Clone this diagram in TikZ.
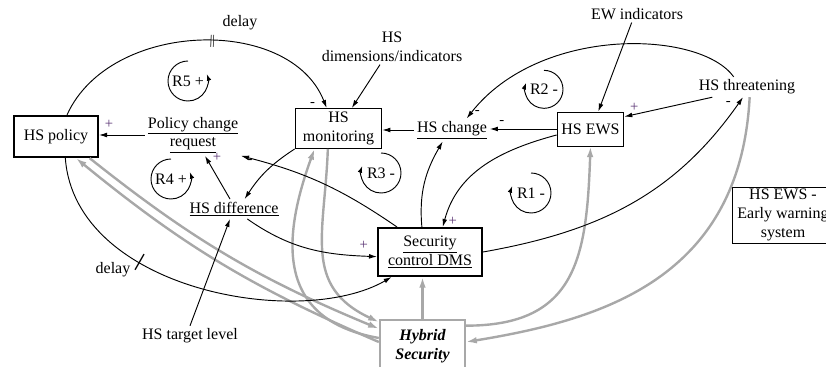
\documentclass[tikz,border=0pt]{standalone}
\usepackage{fontspec}
\setmainfont{Liberation Serif}
\usetikzlibrary{arrows.meta,calc}
\definecolor{plusc}{rgb}{0.35,0.2,0.45}
\definecolor{hsgray}{gray}{0.66}

\begin{document}
\begin{tikzpicture}
	[x=0.75pt, y=0.75pt,
	every node/.style={font=\fontsize{12}{14}\selectfont, align=center, inner sep=2pt},
	box/.style={draw, line width=0.7pt, inner sep=1pt},
	heavybox/.style={draw, line width=1.5pt, inner sep=1pt},
	arr/.style={-{Latex[length=6pt,width=3.6pt]}, line width=0.7pt},
	grayarr/.style={-{Latex[length=8pt,width=5pt]}, line width=1.8pt, draw=hsgray},
	sgn/.style={font=\fontsize{11}{12}\selectfont, inner sep=0pt},
	plus/.style={sgn, text=plusc},
	loopline/.style={-{Latex[length=5pt,width=3.5pt]}, line width=0.7pt},
	tick/.style={sloped, inner sep=0pt, font=\fontsize{10}{10}\selectfont}]

	\useasboundingbox (0,0) rectangle (826,-367);

	% variables
	\node (policy)[heavybox, minimum width=63pt, minimum height=31pt] at (56,-136.5) {HS policy};
	\node (request) at (193,-135) {\underline{Policy change}\\ \underline{request}};
	\node (monitor)[box, minimum width=65pt, minimum height=30pt] at (338.5,-128.5) {HS\\ monitoring};
	\node (dims) at (392,-47) {HS\\ dimensions/indicators};
	\node (change) at (452,-130) {\underline{HS change}};
	\node (ews)[box, minimum width=50pt, minimum height=25.5pt] at (590.5,-129) {HS EWS};
	\node (ewind) at (637,-14) {EW indicators};
	\node (threat) at (747,-87) {HS threatening};
	\node (legend)[box, minimum width=76.5pt, minimum height=42pt] at (783,-215) {HS EWS -\\ Early warning\\ system};
	\node (diff) at (234,-209) {\underline{HS difference}};
	\node (dms)[heavybox, minimum width=78pt, minimum height=36pt] at (430,-252) {\underline{Security}\\ \underline{control DMS}};
	\node (hybrid)[heavybox, draw=hsgray, minimum width=64pt, minimum height=39pt] at (422.5,-346) {\bfseries\itshape Hybrid\\ \bfseries\itshape Security};
	\node (target) at (190,-336) {HS target level};
	\node (delaytop) at (240,-23) {delay};
	\node (delaybot) at (113,-270) {delay};

	% loops
	\node (r5) at (188,-81) {R5 +};
	\node (r4) at (171,-179) {R4 +};
	\node (r3) at (381,-173) {R3 -};
	\node (r2) at (544,-89) {R2 -};
	\node (r1) at (531,-193) {R1 -};
	\draw[loopline] ([yshift=15pt]r5.center) arc[start angle=90, end angle=380, radius=20];
	\draw[loopline] ([yshift=15pt]r4.center) arc[start angle=90, end angle=380, radius=20];
	\draw[loopline] ([yshift=15pt]r3.center) arc[start angle=90, end angle=-200, radius=20];
	\draw[loopline] ([yshift=14pt]r2.center) arc[start angle=90, end angle=-200, radius=19];
	\draw[loopline] ([yshift=15pt]r1.center) arc[start angle=90, end angle=-200, radius=20];

	% hybrid security links
	\draw[grayarr] ([xshift=-7pt]policy.south east) to[bend right=8] ([yshift=13pt]hybrid.west);
	\draw[grayarr] ([yshift=3pt]hybrid.west) to[bend left=8] ([xshift=15pt]policy.south);
	\draw[grayarr] ([xshift=-8pt]monitor.south) to[out=-92, in=155, looseness=1.2] ([yshift=18pt]hybrid.west);
	\draw[grayarr] ([yshift=6pt]hybrid.west) to[out=170, in=250, looseness=1.3] ([xshift=-18pt]monitor.south);
	\draw[grayarr] (hybrid.north) -- (hybrid.north |- dms.south);
	\draw[grayarr] ([yshift=-5pt]hybrid.north east) to[out=0, in=-92, looseness=1.3] (ews.south);
	\draw[grayarr] ([xshift=2pt]threat.south) .. controls (740,-280) and (600,-320) .. ([yshift=3pt]hybrid.east);

	% causal links
	\draw[arr] (request.west) -- (request.west -| policy.east) node[plus, at end, xshift=7.5pt, yshift=8pt] {+};
	\draw[arr] (policy.63) .. controls (110,-20) and (290,-15) .. (monitor.120)
		node[tick, pos=.54] {||} node[sgn, at end, xshift=-10.5pt, yshift=3pt] {-};
	\draw[arr] ([xshift=-9pt]dims.south) -- (monitor.57);
	\draw[arr] (change.west) -- (change.west -| monitor.east);
	\draw[arr] (ews.west) -- (ews.west -| change.east) node[sgn, at end, xshift=9pt, yshift=5pt] {-};
	\draw[arr] ([xshift=-10pt]threat.north) .. controls (700,-30) and (540,-25) .. ([xshift=11pt]change.north)
		node[sgn, at end, xshift=8pt, yshift=4.5pt] {-};
	\draw[arr] ([xshift=-26pt]threat.south) -- (ews.20) node[plus, at end, xshift=7.5pt, yshift=7.3pt] {+};
	\draw[arr] ([xshift=-4pt]ewind.south) -- (ews.66);
	\draw[arr] (ews.190) to[out=195, in=75] node[plus, at end, xshift=7.5pt, yshift=4.5pt] {+} (dms.63);
	\draw[arr] (dms.108) to[out=95, in=240] ([xshift=-7pt]change.south);
	\draw[arr] (dms.east) to[out=10, in=235] node[sgn, at end, xshift=-11pt, yshift=-4.5pt] {-} ([xshift=-3pt]threat.south);
	\draw[arr] ([xshift=15pt]dms.north west) to[bend right=10] node[sgn, at end, xshift=6.75pt, yshift=-4.5pt] {-} (request.south east);
	\draw[arr] (monitor.south west) to[bend right=12] ([xshift=8pt]diff.north);
	\draw[arr] ([xshift=-3pt]diff.north) -- ([xshift=9pt]request.south) node[plus, at end, xshift=9pt, yshift=-1.5pt] {+};
	\draw[arr] (target.north) -- ([xshift=-3pt]diff.south);
	\draw[arr] ([xshift=10pt]diff.south) to[out=-35, in=178] node[plus, at end, xshift=-10pt, yshift=8.6pt] {+} (dms.185);
	\draw[arr] ([xshift=7pt]policy.south) .. controls (75,-290) and (300,-330) .. ([xshift=11pt]dms.south west)
		node[tick, pos=.35, font=\fontsize{15}{15}\selectfont] {\bfseries |};
\end{tikzpicture}
\end{document}
